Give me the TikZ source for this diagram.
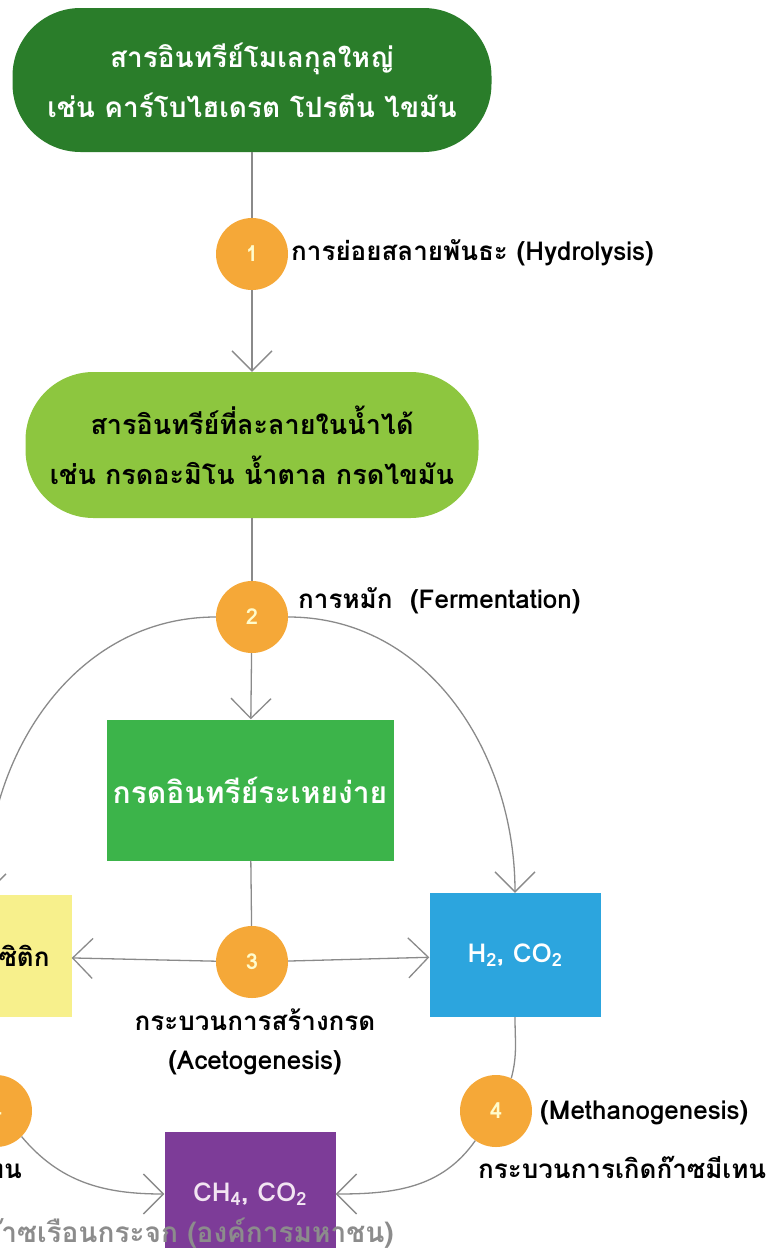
\documentclass[tikz,border=0pt]{standalone}
\usepackage{fontspec}
\newfontfamily\thaifont[Script=Thai]{Loma}
\usetikzlibrary{positioning, arrows.meta}

\definecolor{deepgreen}{HTML}{2A7D2A}
\definecolor{leafgreen}{HTML}{8DC63F}
\definecolor{midgreen}{HTML}{3CB44A}
\definecolor{stageorange}{HTML}{F5A838}
\definecolor{paleyellow}{HTML}{F7F08C}
\definecolor{skyblue}{HTML}{2CA5DE}
\definecolor{grape}{HTML}{7D3C98}
\definecolor{linegray}{HTML}{8A8A8A}
\definecolor{notegray}{HTML}{8C8C8C}

\begin{document}
\begin{tikzpicture}[
    x=1pt, y=1pt,
    font=\thaifont\bfseries,
    stadium/.style={
        rectangle,
        rounded corners=68pt,
        align=center,
        inner sep=0pt,
        fontsize=28
    },
    fontsize/.style={
        font=\thaifont\bfseries\fontsize{#1}{50}\selectfont
    },
    box/.style={
        rectangle,
        align=center,
        inner sep=0pt,
        minimum width=171pt,
        minimum height=124pt,
        fontsize=26
    },
    stage/.style={
        circle,
        fill=stageorange,
        minimum size=72pt,
        inner sep=0pt,
        text=yellow!20,
        fontsize=22
    },
    label/.style={
        fontsize=26,
        text=black,
        inner sep=0pt
    },
    line/.style={
        draw=linegray,
        line width=1.3pt
    },
    arrow/.style={
        line,
        -{Straight Barb[length=20pt, width=40pt]}
    }
]
\useasboundingbox (0,0) rectangle (768,-1248);
\clip (0,0) rectangle (768,-1248);

\node[stadium, fill=deepgreen, text=white, minimum width=479pt, minimum height=144pt]
    (macro) at (252,-80)
{สารอินทรีย์โมเลกุลใหญ่\\เช่น คาร์โบไฮเดรต โปรตีน ไขมัน};

\node[stage] (s1) at (252,-254) {1};

\node[stadium, fill=leafgreen, text=black, minimum width=453pt, minimum height=146pt, fontsize=27]
    (soluble) at (252,-445)
{สารอินทรีย์ที่ละลายในน้ำได้\\เช่น กรดอะมิโน น้ำตาล กรดไขมัน};

\node[stage] (s2) at (252,-617) {2};

\node[box, fill=midgreen, text=white, minimum width=287pt, minimum height=141pt, fontsize=30]
    (volatile) at (250,-790)
{กรดอินทรีย์ระเหยง่าย};

\node[stage] (s3) at (252,-962) {3};

\node[box, fill=paleyellow, text=black, minimum height=122pt] (acetic) at (-14,-956)
{กรดอะซิติก};

\node[box, fill=skyblue, text=white] (hydrogen) at (515,-955)
{H\textsubscript{2}, CO\textsubscript{2}};

\node[stage] (s4l) at (-4,-1111) {4};
\node[stage] (s4r) at (496,-1111) {4};

\node[box, fill=grape, text=violet!10] (methane) at (250,-1194)
{CH\textsubscript{4}, CO\textsubscript{2}};

% stage labels
\node[label, anchor=west] (l1) at (291,-253) {การย่อยสลายพันธะ (Hydrolysis)};
\node[label, anchor=west] (l2) at (298,-601) {การหมัก\ \ (Fermentation)};
\node[label, align=center, font=\thaifont\bfseries\fontsize{26}{39}\selectfont] (l3) at (255,-1042)
{กระบวนการสร้างกรด\\(Acetogenesis)};
\node[label, anchor=west] (l4a) at (540,-1113) {(Methanogenesis)};
\node[label, anchor=west] (l4b) at (478,-1167) {กระบวนการเกิดก๊าซมีเทน};
\node[label, anchor=east] (l4c) at (22,-1167) {กระบวนการเกิดก๊าซมีเทน};

% connectors
\draw[line] (macro) -- (s1);
\draw[arrow] (s1) -- (soluble);
\draw[line] (soluble) -- (s2);
\draw[arrow] (s2) -- (volatile);
\draw[arrow] (s2.west) to[out=180, in=90] (acetic.north);
\draw[arrow] (s2.east) to[out=0, in=90] (hydrogen.north);
\draw[line] (volatile) -- (s3);
\draw[arrow] (s3) -- (acetic);
\draw[arrow] (s3) -- (hydrogen);
\draw[line] (hydrogen.south) to[out=-90, in=75] (s4r.65);
\draw[arrow] (s4r.235) to[out=235, in=0] (methane.east);
\draw[arrow] (s4l.-45) to[out=-50, in=180] (methane.west);

% source note
\node[anchor=east, text=notegray, inner sep=0pt, fontsize=28] (source) at (394,-1233)
{ก๊าซเรือนกระจก (องค์การมหาชน)};
\end{tikzpicture}
\end{document}
